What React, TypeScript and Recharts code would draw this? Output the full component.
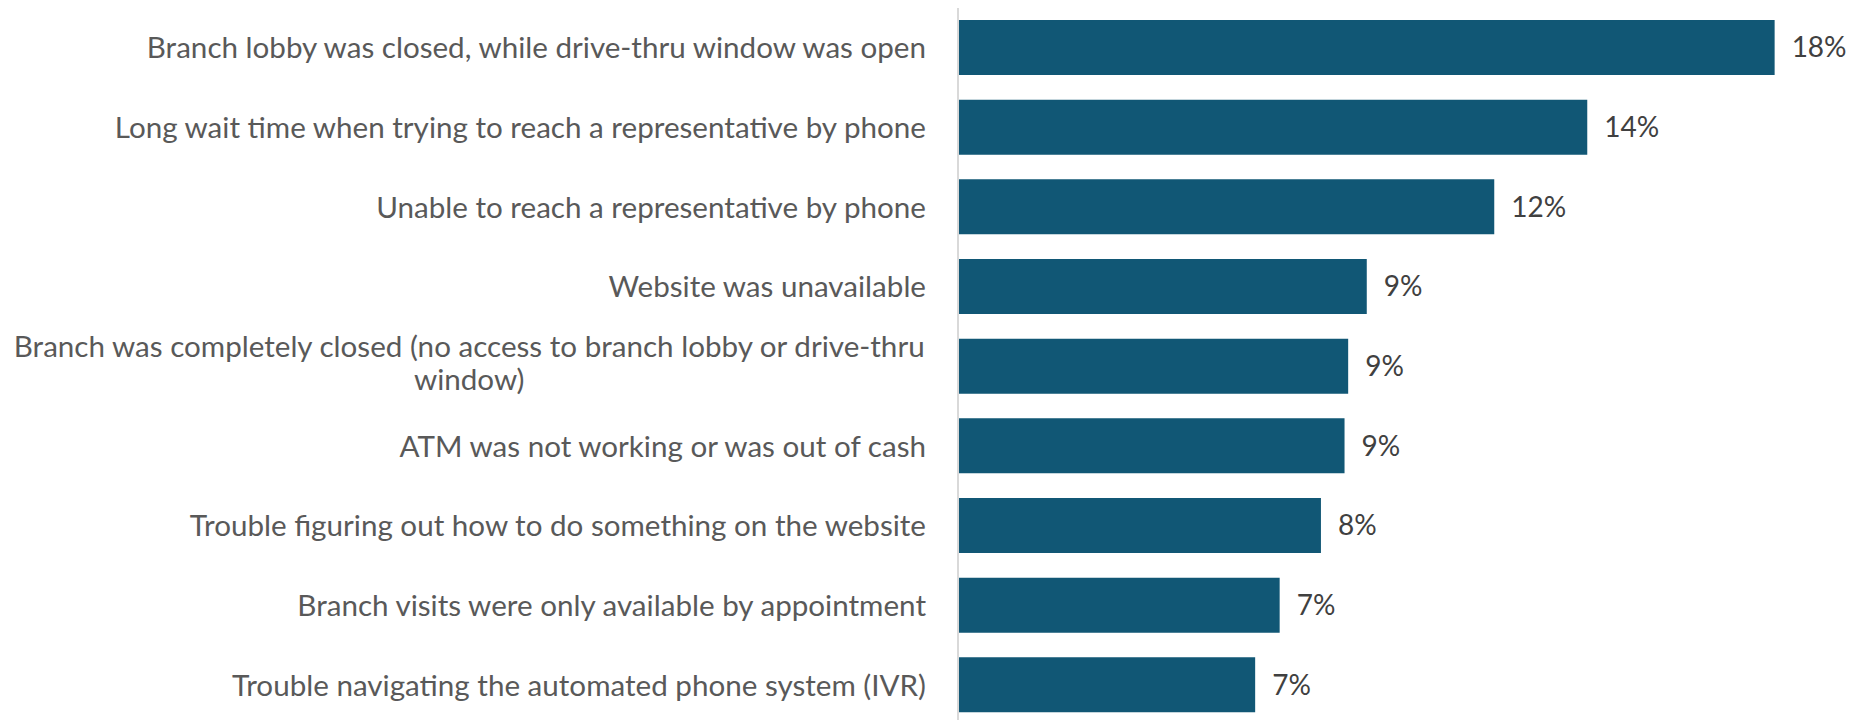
import React from "react";
import { BarChart, Bar, XAxis, YAxis, LabelList } from "recharts";

const categories = [
  "Branch lobby was closed, while drive-thru window was open",
  "Long wait time when trying to reach a representative by phone",
  "Unable to reach a representative by phone",
  "Website was unavailable",
  "Branch was completely closed (no access to branch lobby or drive-thru window)",
  "ATM was not working or was out of cash",
  "Trouble figuring out how to do something on the website",
  "Branch visits were only available by appointment",
  "Trouble navigating the automated phone system (IVR)",
];

const values = [18.0, 13.87, 11.82, 9.01, 8.6, 8.52, 8.0, 7.09, 6.55];

const data = categories.map((name, i) => ({ name, value: values[i] }));

const FONT = "Lato, 'Open Sans', sans-serif";
const CAT_FONT_SIZE = 29.6;
const VAL_FONT_SIZE = 28;
const LINE_H = 33;
const MAX_LABEL_W = 926;

let ctx: CanvasRenderingContext2D | null = null;
function measure(s: string): number {
  if (!ctx && typeof document !== "undefined") {
    const c = document.createElement("canvas");
    ctx = c.getContext("2d");
  }
  if (!ctx) return s.length * CAT_FONT_SIZE * 0.48;
  ctx.font = `${CAT_FONT_SIZE}px Lato`;
  return ctx.measureText(s).width;
}

function wrap(text: string, maxW: number): string[] {
  const words = text.split(" ");
  const lines: string[] = [];
  let cur = "";
  for (const w of words) {
    const t = cur ? cur + " " + w : w;
    if (measure(t) > maxW && cur) {
      lines.push(cur);
      cur = w;
    } else {
      cur = t;
    }
  }
  if (cur) lines.push(cur);
  return lines;
}

const CategoryTick = (props: any) => {
  const { x, y, payload } = props;
  const lines = wrap(String(payload.value), MAX_LABEL_W);
  const n = lines.length;
  if (n === 1) {
    return (
      <text x={x} y={y} dy="0.36em" textAnchor="end" fill="#595959" fontSize={CAT_FONT_SIZE} fontFamily={FONT}>
        {lines[0]}
      </text>
    );
  }
  const blockW = Math.max(...lines.map(measure));
  const cx = x - blockW / 2;
  return (
    <text textAnchor="middle" fill="#595959" fontSize={CAT_FONT_SIZE} fontFamily={FONT}>
      {lines.map((l, i) => (
        <tspan key={i} x={cx} y={y + 10 - 3.5 + (i - (n - 1) / 2) * LINE_H}>
          {l}
        </tspan>
      ))}
    </text>
  );
};

export default function App() {
  return (
    <div style={{ position: "fixed", top: 0, left: 0, background: "#fff" }}>
      <BarChart
        width={1850}
        height={725}
        data={data}
        layout="vertical"
        margin={{ top: 8, right: 30, bottom: 0, left: 0 }}
        barCategoryGap={0}
      >
        <XAxis type="number" domain={[0, 19]} hide allowDataOverflow />
        <YAxis
          type="category"
          dataKey="name"
          width={958}
          interval={0}
          tickLine={false}
          tickSize={0}
          tickMargin={32}
          axisLine={{ stroke: "#d9d9d9", strokeWidth: 2 }}
          tick={<CategoryTick />}
        />
        <Bar dataKey="value" fill="#115775" barSize={55} isAnimationActive={false}>
          <LabelList
            dataKey="value"
            position="right"
            offset={17}
            formatter={(v: any) => `${Math.round(Number(v))}%`}
            fill="#404040"
            fontSize={VAL_FONT_SIZE}
            fontFamily={FONT}
          />
        </Bar>
      </BarChart>
    </div>
  );
}
